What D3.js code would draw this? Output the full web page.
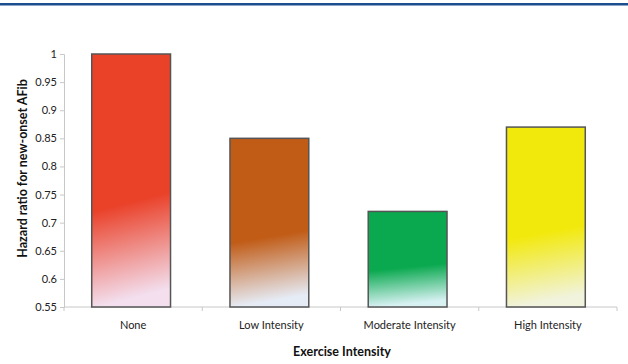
<!DOCTYPE html>
<html>
<head>
<meta charset="utf-8">
<script src="https://cdn.jsdelivr.net/npm/d3@7"></script>
<style>
  html, body { margin: 0; padding: 0; background: #fff; }
  svg { display: block; font-family: Lato, "Open Sans", sans-serif; }
</style>
</head>
<body>
<svg id="chart" width="628" height="364"></svg>
<script>
// Hazard ratio by exercise intensity
const categories = ["None", "Low Intensity", "Moderate Intensity", "High Intensity"];
const hazardRatios = [1.0, 0.85, 0.72, 0.87];
const yTicks = [0.55, 0.6, 0.65, 0.7, 0.75, 0.8, 0.85, 0.9, 0.95, 1];
const yTickLabels = ["0.55", "0.6", "0.65", "0.7", "0.75", "0.8", "0.85", "0.9", "0.95", "1"];
const barColors = ["#ea4129", "#c15c17", "#0aa94f", "#f2e90c"];
const barFadeColors = ["#f3dfee", "#e6ecf6", "#d8f1f3", "#f1f3dc"];

const svg = d3.select("#chart");
const margin = { left: 64, right: 11, top: 54, bottom: 57 };
const W = 628, H = 364;

// top rule
svg.append("rect").attr("x", 0).attr("y", 3).attr("width", W).attr("height", 2.5).attr("fill", "#1d4f8f");

const x = d3.scaleBand().domain(categories)
  .range([margin.left, W - margin.right])
  .paddingInner(0.43).paddingOuter(0.215);
const y = d3.scaleLinear().domain([0.55, 1]).range([H - margin.bottom, margin.top]);

const defs = svg.append("defs");
categories.forEach((c, i) => {
  const g = defs.append("linearGradient").attr("id", "grad" + i)
    .attr("x1", 0).attr("y1", 0).attr("x2", 0.08).attr("y2", 1);
  g.append("stop").attr("offset", "0").attr("stop-color", barColors[i]);
  g.append("stop").attr("offset", "0.62").attr("stop-color", barColors[i]);
  g.append("stop").attr("offset", "1").attr("stop-color", barFadeColors[i]);
});

// y axis
const yAxis = svg.append("g").attr("transform", `translate(${margin.left},0)`)
  .call(d3.axisLeft(y).tickValues(yTicks).tickFormat((d, i) => yTickLabels[i]).tickSize(4).tickPadding(3));
yAxis.select(".domain").attr("stroke", "#c8c8c8");
yAxis.selectAll(".tick line").attr("stroke", "#c8c8c8");
yAxis.selectAll(".tick text").attr("fill", "#222").style("font-size", "11px").style("font-family", "Lato, sans-serif");

// x axis with boundary ticks between categories
const xAxisG = svg.append("g").attr("transform", `translate(0,${y(0.55)})`);
xAxisG.append("line").attr("x1", margin.left).attr("x2", W - margin.right)
  .attr("stroke", "#c8c8c8");
d3.range(categories.length + 1).forEach(i => {
  const bx = margin.left + i * (W - margin.left - margin.right) / categories.length;
  xAxisG.append("line").attr("x1", bx).attr("x2", bx).attr("y1", 0).attr("y2", 4).attr("stroke", "#c8c8c8");
});
xAxisG.selectAll("text.cat").data(categories).join("text")
  .attr("class", "cat")
  .attr("x", d => x(d) + x.bandwidth() / 2)
  .attr("y", 22)
  .attr("text-anchor", "middle")
  .attr("fill", "#222")
  .style("font-size", "11px")
  .text(d => d);

// bars
svg.selectAll("rect.bar").data(categories).join("rect")
  .attr("class", "bar")
  .attr("x", d => x(d) - 2)
  .attr("width", x.bandwidth())
  .attr("y", (d, i) => y(hazardRatios[i]))
  .attr("height", (d, i) => y(0.55) - y(hazardRatios[i]))
  .attr("fill", (d, i) => `url(#grad${i})`)
  .attr("stroke", "#555")
  .attr("stroke-width", 1.5);

// axis titles
svg.append("text")
  .attr("transform", `translate(27,${(margin.top + H - margin.bottom) / 2 - 12}) rotate(-90)`)
  .attr("text-anchor", "middle")
  .attr("fill", "#111")
  .style("font-size", "12.5px")
  .style("font-weight", "bold")
  .text("Hazard ratio for new-onset AFib");

svg.append("text")
  .attr("x", 342)
  .attr("y", 356)
  .attr("text-anchor", "middle")
  .attr("fill", "#111")
  .style("font-size", "12.5px")
  .style("font-weight", "bold")
  .text("Exercise Intensity");
</script>
</body>
</html>
